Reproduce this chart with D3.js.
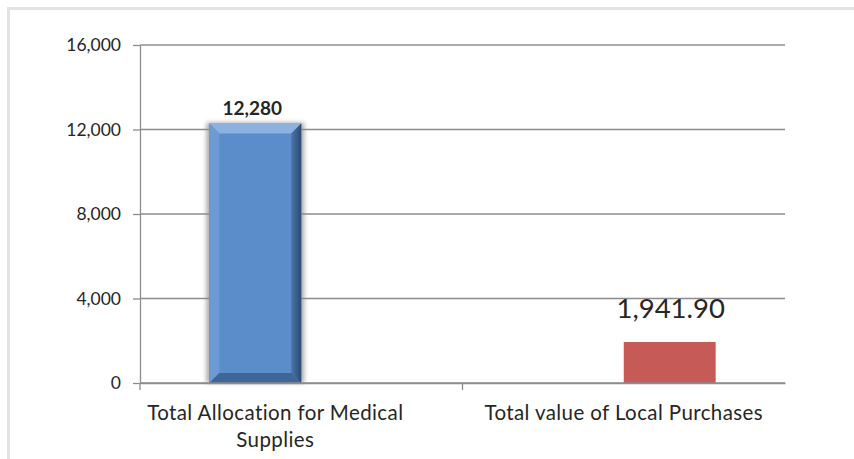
<!DOCTYPE html>
<html lang="en">
<head>
    <meta charset="UTF-8">
    <title>Medical Supplies Allocation vs Local Purchases</title>
    <script src="https://d3js.org/d3.v7.min.js"></script>
    <style>
        body { margin: 0; background: #ffffff; }
        svg text { font-family: Lato, "Open Sans", sans-serif; fill: #262626; }
        .grid line { stroke: #8c8c8c; stroke-width: 1.3; }
        .axis path, .axis line { stroke: #8c8c8c; stroke-width: 1.3; }
    </style>
</head>
<body>
    <svg id="chart" width="854" height="459"></svg>
    <script>
        // Chart data
        const categories = ["Total Allocation for Medical Supplies", "Total value of Local Purchases"];
        const seriesNames = ["Allocation", "Local Purchases"];
        const allocationValues = [12280, null];
        const purchaseValues = [null, 1941.90];
        const yTicks = [0, 4000, 8000, 12000, 16000];
        const valueLabels = ["12,280", "1,941.90"];

        const svg = d3.select("#chart");

        // light frame of the chart area (top and left only visible)
        svg.append("rect")
            .attr("x", 8.5).attr("y", 8.5)
            .attr("width", 900).attr("height", 500)
            .attr("fill", "none")
            .attr("stroke", "#e3e3e3")
            .attr("stroke-width", 3);

        const plot = {left: 140, right: 785, top: 45, bottom: 383};

        const x = d3.scaleBand()
            .domain(categories)
            .range([plot.left, plot.right])
            .padding(0);

        const groupW = x.bandwidth() * 0.57;
        const xs = d3.scaleBand()
            .domain(seriesNames)
            .range([(x.bandwidth() - groupW) / 2, (x.bandwidth() + groupW) / 2])
            .padding(0);

        const y = d3.scaleLinear()
            .domain([0, 16000])
            .range([plot.bottom, plot.top]);

        // gridlines
        svg.append("g")
            .attr("class", "grid")
            .selectAll("line")
            .data(yTicks.filter(d => d > 0))
            .join("line")
            .attr("x1", plot.left).attr("x2", plot.right)
            .attr("y1", d => y(d)).attr("y2", d => y(d));

        // y axis
        const yAxis = svg.append("g")
            .attr("class", "axis")
            .attr("transform", `translate(${plot.left},0)`)
            .call(d3.axisLeft(y).tickValues(yTicks).tickFormat(d3.format(",")).tickSize(7).tickSizeOuter(0));
        yAxis.selectAll("text")
            .attr("x", -19)
            .style("font-size", "17.5px")
            .style("fill", "#262626");

        // x axis
        const xAxis = svg.append("g")
            .attr("class", "axis")
            .attr("transform", `translate(0,${plot.bottom})`)
            .call(d3.axisBottom(x).tickValues([]).tickSizeOuter(0));
        xAxis.selectAll(".cat-tick")
            .data(categories)
            .join("line")
            .attr("class", "cat-tick")
            .attr("x1", d => x(d))
            .attr("x2", d => x(d))
            .attr("y1", 0).attr("y2", 7);

        // category labels (wrapped)
        const catLines = [["Total Allocation for Medical", "Supplies"], ["Total value of Local Purchases"]];
        const catLabels = svg.append("g")
            .selectAll("text")
            .data(categories)
            .join("text")
            .attr("text-anchor", "middle")
            .attr("x", (d, i) => x(d) + x.bandwidth() / 2 - (i === 0 ? 26 : 0))
            .attr("y", 420)
            .style("font-size", "20.5px")
            .style("letter-spacing", "0.4px");
        catLabels.each(function(d, i) {
            const t = d3.select(this);
            catLines[i].forEach((line, j) => {
                t.append("tspan")
                    .attr("x", t.attr("x"))
                    .attr("dy", j === 0 ? 0 : 27)
                    .text(line);
            });
        });

        // soft shadow for the beveled bar
        const defs = svg.append("defs");
        const f = defs.append("filter").attr("id", "shadow")
            .attr("x", "-20%").attr("y", "-5%").attr("width", "140%").attr("height", "110%");
        f.append("feGaussianBlur").attr("in", "SourceAlpha").attr("stdDeviation", 2.2).attr("result", "b");
        f.append("feFlood").attr("flood-color", "#8a8a8a").attr("flood-opacity", 0.7);
        f.append("feComposite").attr("in2", "b").attr("operator", "in");

        const rightGrad = defs.append("linearGradient").attr("id", "rightEdge")
            .attr("x1", "0").attr("x2", "1").attr("y1", "0").attr("y2", "0");
        rightGrad.append("stop").attr("offset", "0%").attr("stop-color", "#4b76ab");
        rightGrad.append("stop").attr("offset", "100%").attr("stop-color", "#2c4a72");

        const bev = 10;

        // series 1: beveled blue bar
        const barA = svg.append("g")
            .selectAll("g")
            .data(categories.map((c, i) => ({c, v: allocationValues[i]})).filter(d => d.v != null))
            .join("g");
        barA.each(function(d) {
            const g = d3.select(this);
            const x0 = x(d.c) + xs(seriesNames[0]);
            const x1 = x0 + xs.bandwidth();
            const y0 = y(d.v);
            const y1 = y(0);
            g.append("rect")
                .attr("x", x0 - 3).attr("y", y0 - 1)
                .attr("width", x1 - x0 + 6).attr("height", y1 - y0 + 1)
                .attr("fill", "#000").attr("filter", "url(#shadow)");
            g.append("rect")
                .attr("x", x0).attr("y", y0)
                .attr("width", x1 - x0).attr("height", y1 - y0)
                .attr("fill", "#5b8dcb");
            const poly = pts => pts.map(p => p.join(",")).join(" ");
            g.append("polygon")
                .attr("points", poly([[x0, y0], [x1, y0], [x1 - bev, y0 + bev], [x0 + bev, y0 + bev]]))
                .attr("fill", "#8cb2e2");
            g.append("polygon")
                .attr("points", poly([[x0, y0], [x0 + bev, y0 + bev], [x0 + bev, y1 - bev], [x0, y1]]))
                .attr("fill", "#6c9ad3");
            g.append("polygon")
                .attr("points", poly([[x1, y0], [x1, y1], [x1 - bev, y1 - bev], [x1 - bev, y0 + bev]]))
                .attr("fill", "url(#rightEdge)");
            g.append("polygon")
                .attr("points", poly([[x0, y1], [x0 + bev, y1 - bev], [x1 - bev, y1 - bev], [x1, y1]]))
                .attr("fill", "#3f6698");
        });

        // series 2: flat red bar
        svg.append("g")
            .selectAll("rect")
            .data(categories.map((c, i) => ({c, v: purchaseValues[i]})).filter(d => d.v != null))
            .join("rect")
            .attr("x", d => x(d.c) + xs(seriesNames[1]))
            .attr("y", d => y(d.v))
            .attr("width", xs.bandwidth())
            .attr("height", d => y(0) - y(d.v))
            .attr("fill", "#c55a57");

        // redraw baseline over bars
        svg.append("line")
            .attr("x1", plot.left).attr("x2", plot.right)
            .attr("y1", plot.bottom).attr("y2", plot.bottom)
            .attr("stroke", "#8c8c8c").attr("stroke-width", 1.3);

        // value labels
        svg.append("text")
            .attr("text-anchor", "middle")
            .attr("x", x(categories[0]) + xs(seriesNames[0]) + xs.bandwidth() / 2 - 3)
            .attr("y", y(allocationValues[0]) - 9)
            .style("font-size", "19px")
            .style("font-weight", "bold")
            .text(valueLabels[0]);
        svg.append("text")
            .attr("text-anchor", "middle")
            .attr("x", x(categories[1]) + xs(seriesNames[1]) + xs.bandwidth() / 2 + 1)
            .attr("y", y(purchaseValues[1]) - 24)
            .style("font-size", "27.5px")
            .text(valueLabels[1]);
    </script>
</body>
</html>
